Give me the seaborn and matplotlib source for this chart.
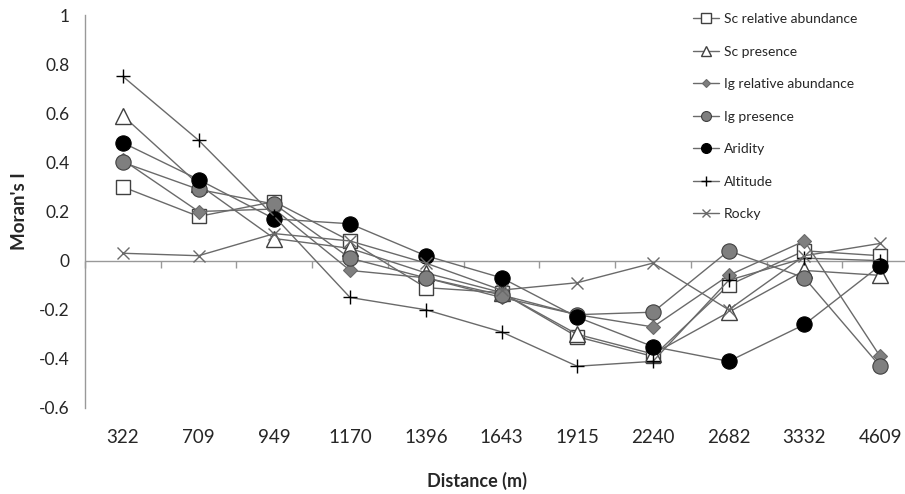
import matplotlib
matplotlib.use("Agg")
import matplotlib.pyplot as plt
import seaborn as sns
import pandas as pd
import numpy as np

distances = ["322", "709", "949", "1170", "1396", "1643", "1915", "2240", "2682", "3332", "4609"]

sc_rel_abund = [0.30, 0.18, 0.24, 0.08, -0.11, -0.13, -0.31, -0.39, -0.10, 0.04, 0.02]
sc_presence = [0.59, 0.31, 0.09, 0.05, -0.05, -0.13, -0.30, -0.38, -0.21, -0.04, -0.06]
ig_rel_abund = [0.41, 0.20, 0.21, -0.04, -0.07, -0.15, -0.22, -0.27, -0.06, 0.08, -0.39]
ig_presence = [0.40, 0.29, 0.23, 0.01, -0.07, -0.14, -0.22, -0.21, 0.04, -0.07, -0.43]
aridity = [0.48, 0.33, 0.17, 0.15, 0.02, -0.07, -0.23, -0.35, -0.41, -0.26, -0.02]
altitude = [0.75, 0.49, 0.18, -0.15, -0.20, -0.29, -0.43, -0.41, -0.08, 0.01, 0.00]
rocky = [0.03, 0.02, 0.11, 0.08, -0.01, -0.12, -0.09, -0.01, -0.20, 0.02, 0.07]

series_names = ["Sc relative abundance", "Sc presence", "Ig relative abundance",
                "Ig presence", "Aridity", "Altitude", "Rocky"]
series_values = [sc_rel_abund, sc_presence, ig_rel_abund, ig_presence, aridity, altitude, rocky]
y_ticks = [-0.6, -0.4, -0.2, 0, 0.2, 0.4, 0.6, 0.8, 1]
y_tick_labels = ["-0.6", "-0.4", "-0.2", "0", "0.2", "0.4", "0.6", "0.8", "1"]

sns.set_style("white")
plt.rcParams['font.family'] = ['Lato', 'DejaVu Sans']

line_col = "#6a6a6a"
styles = {
    "Sc relative abundance": dict(marker="s", markersize=10, markerfacecolor="white", markeredgecolor="#404040", markeredgewidth=1.0),
    "Sc presence": dict(marker="^", markersize=11, markerfacecolor="white", markeredgecolor="#404040", markeredgewidth=1.0),
    "Ig relative abundance": dict(marker="D", markersize=7, markerfacecolor="#7f7f7f", markeredgecolor="#6a6a6a", markeredgewidth=0.8),
    "Ig presence": dict(marker="o", markersize=11, markerfacecolor="#7f7f7f", markeredgecolor="#404040", markeredgewidth=0.8),
    "Aridity": dict(marker="o", markersize=11, markerfacecolor="black", markeredgecolor="black", markeredgewidth=0.8),
    "Altitude": dict(marker="+", markersize=10, markeredgecolor="black", markeredgewidth=1.0),
    "Rocky": dict(marker="x", markersize=8, markeredgecolor="#6a6a6a", markeredgewidth=1.0),
}

fig = plt.figure(figsize=(9.05, 4.94), dpi=100)
ax = fig.add_axes([85/905, 1-408/494, 833/905, (408-15)/494])

for name, vals in zip(series_names, series_values):
    df = pd.DataFrame({"Distance": distances, "Moran": vals})
    sns.lineplot(data=df, x="Distance", y="Moran", ax=ax, sort=False, color=line_col,
                 linewidth=1.0, label=name, **styles[name])

ax.set_xlim(-0.5, len(distances) - 0.5)
ax.set_ylim(-0.6, 1.0)
ax.set_yticks(y_ticks)
ax.set_yticklabels(y_tick_labels)
ax.axhline(0, color="#999999", linewidth=1.0, zorder=0)

for s in ["top", "right", "bottom"]:
    ax.spines[s].set_visible(False)
ax.spines["left"].set_color("#999999")
ax.spines["left"].set_linewidth(1.0)
ax.tick_params(axis="y", direction="out", length=4, width=1, color="#999999", pad=7, labelsize=12.5)
ax.tick_params(axis="x", length=0, pad=15, labelsize=13.5)

# tick marks between categories on the zero line
sec = ax.secondary_xaxis(0.375)
sec.set_xticks(np.arange(len(distances) + 1) - 0.5)
sec.set_xticklabels([])
sec.spines["bottom"].set_visible(False)
sec.tick_params(axis="x", direction="out", length=5, width=1, color="#999999")

ax.set_xlabel("Distance (m)", fontsize=13, fontweight="bold", labelpad=19, x=0.47)
ax.set_ylabel("Moran's I", fontsize=13.5, fontweight="bold", labelpad=8)

leg = ax.legend(loc="upper left", bbox_to_anchor=(686/905, 1-6/494), bbox_transform=fig.transFigure,
                frameon=False, fontsize=10, handlelength=1.9, handletextpad=0.3,
                labelspacing=1.48, borderpad=0, markerscale=0.65)

fig.savefig("out.png", dpi=100)
